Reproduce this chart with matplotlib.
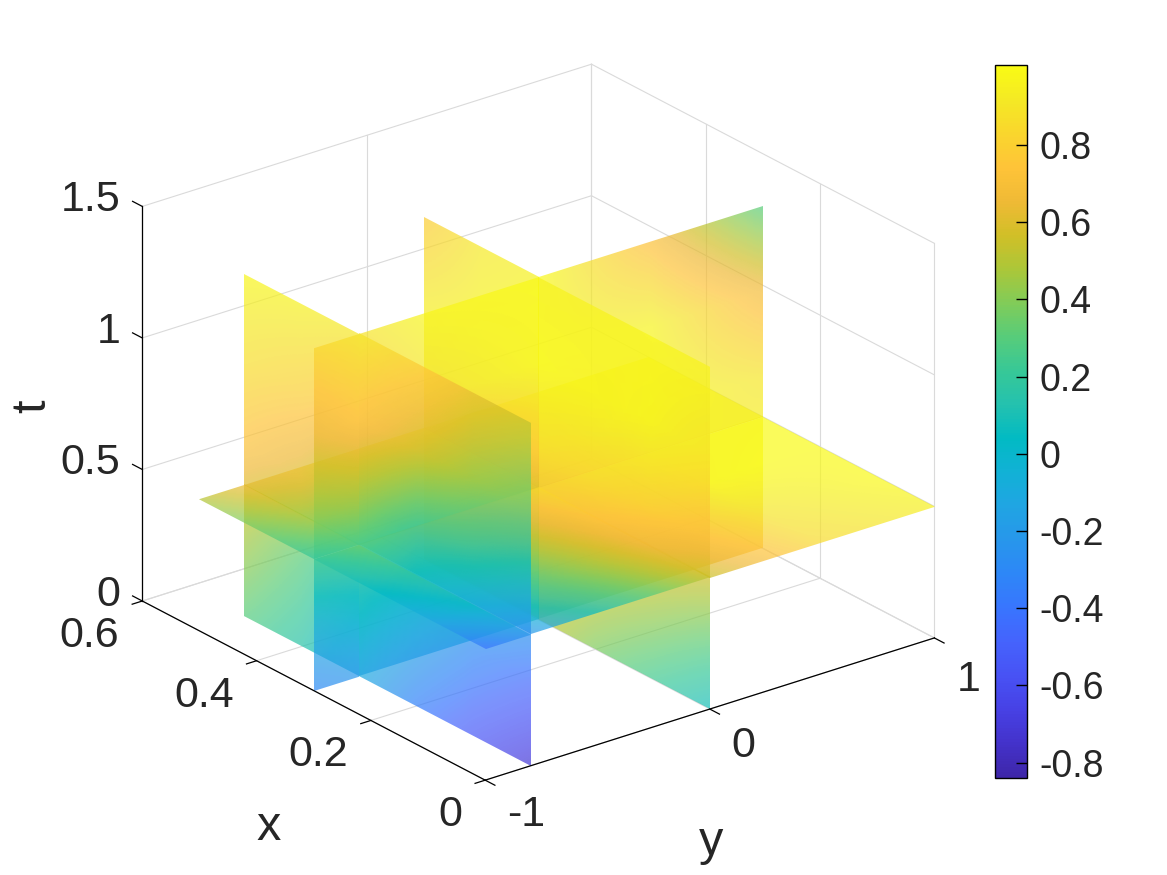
import numpy as np
import matplotlib
matplotlib.use('Agg')
import matplotlib.pyplot as plt
from matplotlib.cm import ScalarMappable
from matplotlib.colors import LinearSegmentedColormap, Normalize
from matplotlib.image import AxesImage
from matplotlib.transforms import Affine2D
from mpl_toolkits.mplot3d import proj3d

plt.rcParams['font.family'] = ['Liberation Sans', 'DejaVu Sans']

# values, rows are t, columns the other axis
t_nodes = [0, 0.325, 0.65, 0.975, 1.3]
x_nodes = [0, 0.1, 0.2, 0.3, 0.4, 0.5]
y_nodes = [-1, -0.5, 0, 0.5, 1]

slice_y_m08 = [[-0.72, -0.55, -0.35, -0.10, 0.15, 0.30],
               [-0.45, -0.30, -0.10, 0.10, 0.30, 0.48],
               [-0.10, 0.05, 0.15, 0.40, 0.60, 0.72],
               [0.28, 0.40, 0.55, 0.72, 0.80, 0.87],
               [0.52, 0.62, 0.78, 0.90, 0.95, 0.98]]
slice_y_0 = [[0.08, 0.24, 0.38, 0.55, 0.60, 0.65],
             [0.38, 0.50, 0.60, 0.68, 0.72, 0.76],
             [0.70, 0.78, 0.85, 0.90, 0.92, 0.90],
             [0.88, 0.95, 0.98, 1.00, 0.98, 0.93],
             [0.97, 0.98, 0.97, 0.96, 0.92, 0.78]]
slice_x_03 = [[-0.30, -0.10, 0.15, 0.60, 0.72],
              [0.00, 0.15, 0.40, 0.85, 0.98],
              [0.40, 0.50, 0.75, 1.00, 0.90],
              [0.65, 0.88, 0.97, 0.97, 0.68],
              [0.82, 0.98, 1.00, 0.72, 0.30]]
# rows are x, columns y
slice_t_05 = [[-0.40, 0.05, 0.55, 0.85, 0.95],
              [-0.10, 0.25, 0.65, 0.90, 1.00],
              [0.05, 0.40, 0.75, 1.00, 1.00],
              [0.20, 0.55, 0.85, 1.00, 1.00],
              [0.35, 0.68, 0.95, 1.00, 1.00],
              [0.50, 0.85, 1.00, 1.00, 0.98]]

x_ticks = [0, 0.2, 0.4, 0.6]
y_ticks = [-1, 0, 1]
t_ticks = [0, 0.5, 1, 1.5]
bar_ticks = [-0.8, -0.6, -0.4, -0.2, 0, 0.2, 0.4, 0.6, 0.8]

# parula
parula_colors = [(0.2422, 0.1504, 0.6603), (0.2647, 0.1978, 0.7952), (0.2783, 0.2559, 0.8991),
                 (0.2810, 0.3228, 0.9579), (0.2699, 0.3892, 0.9906), (0.2206, 0.4603, 0.9973),
                 (0.1786, 0.5289, 0.9682), (0.1540, 0.5902, 0.9218), (0.1248, 0.6459, 0.8883),
                 (0.0689, 0.6948, 0.8394), (0.0067, 0.7312, 0.7660), (0.1408, 0.7584, 0.6842),
                 (0.2161, 0.7843, 0.5923), (0.3406, 0.8008, 0.4789), (0.5044, 0.7993, 0.3480),
                 (0.6720, 0.7793, 0.2227), (0.8203, 0.7498, 0.1535), (0.9393, 0.7288, 0.2100),
                 (0.9970, 0.7659, 0.2199), (0.9786, 0.8386, 0.1766), (0.9597, 0.9135, 0.1423),
                 (0.9769, 0.9839, 0.0805)]
parula = LinearSegmentedColormap.from_list('parula', parula_colors)
norm = Normalize(-0.84, 1.007)
alpha = 0.7
dark = '#262626'
grid_color = '#dadada'

fig = plt.figure(figsize=(11.67, 8.75), dpi=100)
ax = fig.add_axes([-57 / 1167, 3.5 / 875, 1, 1], projection='3d', computed_zorder=False)
ax.set_proj_type('ortho')
ax.set_xlim(0.6, 0)
ax.set_ylim(-1, 1)
ax.set_zlim(0, 1.5)
ax.set_box_aspect((557, 568, 431), zoom=1.006)
ax.view_init(elev=24.0, azim=-37.9)
ax.set_axis_off()
proj = ax.get_proj()


def project(x, y, z):
    px, py, _ = proj3d.proj_transform(x, y, z, proj)
    return np.array([px, py])


def piece(values, rows, cols, row_range, col_range, to_xyz, n=260):
    # one flat part of a slice, bilinear shading between the read values (like shading interp)
    r = np.linspace(row_range[0], row_range[1], n)
    c = np.linspace(col_range[0], col_range[1], n)
    by_col = np.array([np.interp(c, cols, row) for row in values])
    fine = np.array([np.interp(r, rows, by_col[:, j]) for j in range(n)]).T
    rgba = parula(norm(fine))
    rgba[..., 3] = alpha
    p0 = project(*to_xyz(row_range[0], col_range[0]))
    pu = project(*to_xyz(row_range[0], col_range[1]))
    pv = project(*to_xyz(row_range[1], col_range[0]))
    mat = [[pu[0] - p0[0], pv[0] - p0[0], p0[0]],
           [pu[1] - p0[1], pv[1] - p0[1], p0[1]],
           [0, 0, 1]]
    im = AxesImage(ax, interpolation='nearest', origin='lower', extent=(0, 1, 0, 1), zorder=2)
    im.set_data(rgba)
    im.set_transform(Affine2D(np.array(mat)) + ax.transData)
    im.set_clip_on(False)
    ax.add_image(im)


def t_piece(x_range, y_range):
    piece(slice_t_05, x_nodes, y_nodes, x_range, y_range, lambda a, b: (a, b, 0.5))


def x_piece(t_range, y_range):
    piece(slice_x_03, t_nodes, y_nodes, t_range, y_range, lambda a, b: (0.3, b, a))


def y_pieces(y0, data):
    for t_range in [(0, 0.5), (0.5, 1.3)]:
        for x_range in [(0, 0.3), (0.3, 0.5)]:
            piece(data, t_nodes, x_nodes, t_range, x_range, lambda a, b: (b, y0, a))


# painter order from far to near, the planes cut each other
for y_range, y_plane in [((0, 1), (0, slice_y_0)), ((-0.8, 0), (-0.8, slice_y_m08)), ((-1, -0.8), None)]:
    t_piece((0.3, 0.5), y_range)
    x_piece((0, 0.5), y_range)
    x_piece((0.5, 1.3), y_range)
    t_piece((0, 0.3), y_range)
    if y_plane:
        y_pieces(*y_plane)

# back walls and floor
grid = dict(color=grid_color, lw=0.8, zorder=1)
for z in t_ticks:
    ax.plot([0.6, 0.6], [-1, 1], [z, z], **grid)
    ax.plot([0.6, 0], [1, 1], [z, z], **grid)
for v in y_ticks:
    ax.plot([0.6, 0.6], [v, v], [0, 1.5], **grid)
    ax.plot([0, 0.6], [v, v], [0, 0], **grid)
for v in x_ticks:
    ax.plot([v, v], [1, 1], [0, 1.5], **grid)
    ax.plot([v, v], [-1, 1], [0, 0], **grid)

# axis lines and ticks on the front edges
line = dict(color='black', lw=0.9, zorder=3)
ax.plot([0.6, 0], [-1, -1], [0, 0], **line)
ax.plot([0, 0], [-1, 1], [0, 0], **line)
ax.plot([0.6, 0.6], [-1, -1], [0, 1.5], **line)
for v in x_ticks:
    ax.plot([v, v], [-1, -1.045], [0, 0], **line)
for v in y_ticks:
    ax.plot([0, -0.017], [v, v], [0, 0], **line)
for v in t_ticks:
    ax.plot([0.6, 0.617], [-1, -1], [v, v], **line)


def label_at(text, x, y, z, dx, dy, ha, size=31, rotation=0):
    ax.annotate(text, xy=project(x, y, z), xytext=(dx, dy), textcoords='offset pixels', ha=ha, va='center',
                fontsize=size, color=dark, annotation_clip=False, rotation=rotation)


for v in x_ticks:
    label_at(f'{v:g}', v, -1, 0, -23, -35, 'right')
for v, dy in zip(y_ticks, [-35, -37, -42]):
    label_at(f'{v:g}', 0, v, 0, 22, dy, 'left')
for v in t_ticks:
    label_at(f'{v:g}', 0.6, -1, v, -22, 6, 'right')
label_at('x', 0.3, -1, 0, -45, -137, 'center', 35)
label_at('y', 0, 0, 0, 1, -133, 'center', 35)
label_at('t', 0.6, -1, 0.75, -110, -3, 'center', 35, 90)

# colorbar
cax = fig.add_axes([995 / 1167, 1 - 778 / 875, 32 / 1167, 713 / 875])
cbar = fig.colorbar(ScalarMappable(norm=norm, cmap=parula), cax=cax, ticks=bar_ticks)
cbar.ax.set_yticklabels([f'{v:g}' for v in bar_ticks])
cbar.ax.tick_params(direction='in', length=8, width=1, labelsize=27, labelcolor=dark, pad=9)
cbar.outline.set_linewidth(1)

fig.savefig('out.png', dpi=100)
